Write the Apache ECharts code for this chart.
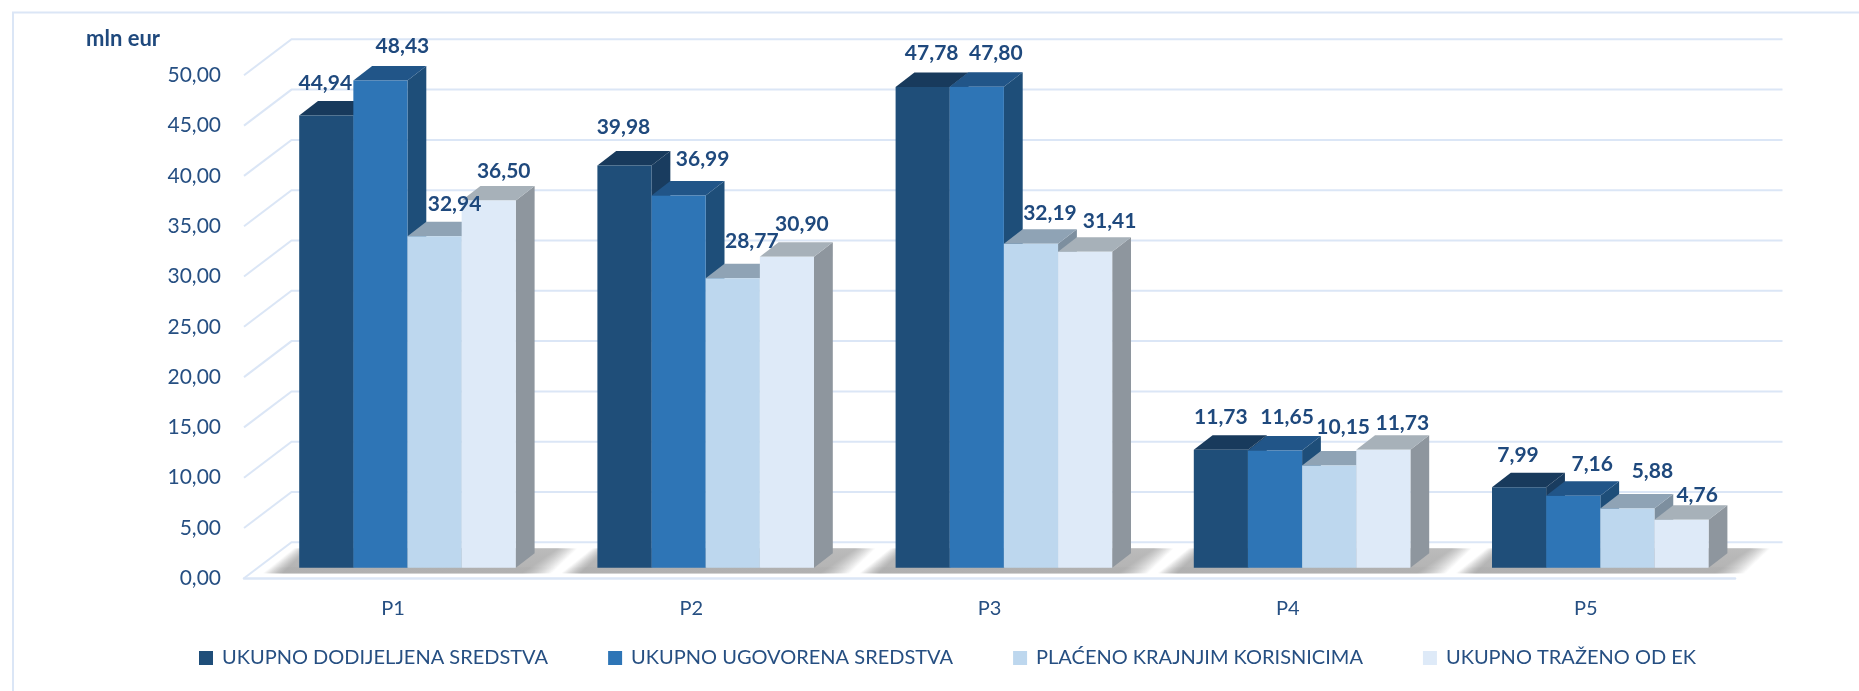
<!DOCTYPE html>
<html>
<head>
<meta charset="utf-8">
<script src="https://cdn.jsdelivr.net/npm/echarts@6/dist/echarts.min.js"></script>
<style>html,body{margin:0;padding:0;background:#fff}#c{width:1859px;height:691px}</style>
</head>
<body>
<div id="c"></div>
<script>
const categories = ['P1', 'P2', 'P3', 'P4', 'P5'];
const yTicks = [0, 5, 10, 15, 20, 25, 30, 35, 40, 45, 50];
const dodijeljena = [44.94, 39.98, 47.78, 11.73, 7.99];
const ugovorena = [48.43, 36.99, 47.80, 11.65, 7.16];
const placeno = [32.94, 28.77, 32.19, 10.15, 5.88];
const trazeno = [36.50, 30.90, 31.41, 11.73, 4.76];

const seriesNames = ['UKUPNO DODIJELJENA SREDSTVA', 'UKUPNO UGOVORENA SREDSTVA', 'PLAĆENO KRAJNJIM KORISNICIMA', 'UKUPNO TRAŽENO OD EK'];
const seriesValues = [dodijeljena, ugovorena, placeno, trazeno];
const frontColors = ['#1f4e79', '#2e75b6', '#bdd7ee', '#deeaf8'];
const topColors = ['#183a5c', '#215588', '#8fa3b5', '#a7b1b9'];
const sideColors = ['#193c5f', '#1e4e79', '#7d8f9f', '#8e969e'];

const textColor = '#264f82';
const labelColor = '#1f497d';
const lineColor = '#dbe6f6';
const fontFamily = 'Lato, "Open Sans", sans-serif';

// projection of the pseudo-3D scene (pixels)
const wallDx = 47.5, wallDy = 36;
const planeDx = 14.4, planeDy = 10.6;
const barDepthX = 18.8, barDepthY = 14.5;
const barWidth = 54.15;
// data-label placement relative to the top centre of each bar's front face
const labelDx = [[-1, -1, 9, 0, -1], [22, 24, 19, 12, 19], [20, 19, 19, 14, 25], [15, 15, 24.5, 19, 15.6]];
const labelDy = [[-32, -38, -34, -32, -32], [-34, -36, -34, -33, -31], [-32, -37, -31, -38, -37], [-29, -33, -30, -26, -25]];

function shadowItem(params, api) {
  const p = api.coord([api.value(0), 0]);
  const left = p[0] + planeDx - 2 * barWidth;
  const base = p[1] - planeDy;
  const children = [];
  const rows = 25;
  for (let r = 0; r < rows; r++) {
    const t = r / (rows - 1);
    const yy = base + 5.5 - r;
    const a = left - 36 + 30 * t, b = left - 16 + 25 * t;
    const c = left + 223 + 35 * t, d = left + 253 + 25 * t;
    const w = d - a;
    const gray = 'rgba(165,165,165,';
    const alpha = yy > base ? 1 : (0.95 - 0.15 * t);
    children.push({
      type: 'rect', silent: true,
      shape: {x: a, y: yy - 1, width: w, height: 1.2},
      style: {fill: new echarts.graphic.LinearGradient(0, 0, 1, 0, [
        {offset: 0, color: gray + '0)'},
        {offset: (b - a) / w, color: gray + alpha + ')'},
        {offset: (c - a) / w, color: gray + alpha + ')'},
        {offset: 1, color: gray + '0)'}
      ])}
    });
  }
  return {type: 'group', children};
}

function barItem(sIdx) {
  return function (params, api) {
    const cat = api.value(0);
    const top = api.coord([cat, api.value(1)]);
    const zero = api.coord([cat, 0]);
    const x = top[0] + planeDx - 2 * barWidth + sIdx * barWidth;
    const yT = top[1] - planeDy, yB = zero[1] - planeDy;
    const r = x + barWidth, dx = barDepthX, dy = barDepthY;
    const txt = api.value(1).toFixed(2).replace('.', ',');
    return {
      type: 'group',
      children: [
        {type: 'polygon', silent: true, shape: {points: [[r, yT], [r + dx, yT - dy], [r + dx, yB - dy], [r, yB]]}, style: {fill: sideColors[sIdx]}},
        {type: 'polygon', silent: true, shape: {points: [[x, yT], [x + dx, yT - dy], [r + dx, yT - dy], [r, yT]]}, style: {fill: topColors[sIdx]}},
        {type: 'rect', silent: true, shape: {x: x, y: yT, width: barWidth, height: yB - yT}, style: {fill: frontColors[sIdx]}},
        {type: 'text', silent: true, z2: 50, x: x + barWidth / 2 + labelDx[sIdx][cat], y: yT + labelDy[sIdx][cat],
          style: {text: txt, fill: labelColor, font: 'bold 21px ' + fontFamily, align: 'center', verticalAlign: 'middle'}}
      ]
    };
  };
}

const chart = echarts.init(document.getElementById('c'), null, {renderer: 'canvas'});
chart.setOption({
  animation: false,
  backgroundColor: '#ffffff',
  grid: {left: 244, top: 75.3, width: 1491, height: 503, containLabel: false},
  graphic: [{
    type: 'polyline', silent: true, z: 0,
    shape: {points: [[13, 691], [13, 12.5], [1859, 12.5]]},
    style: {stroke: lineColor, lineWidth: 2, fill: null}
  }],
  legend: {
    left: 194, top: 643, itemWidth: 14, itemHeight: 14, itemGap: 60, icon: 'rect',
    data: seriesNames,
    selectedMode: false,
    textStyle: {color: textColor, fontSize: 20, fontFamily: fontFamily, padding: [0, 0, 0, 4]}
  },
  tooltip: {show: false},
  xAxis: {
    type: 'category',
    data: categories,
    axisTick: {show: false},
    axisLine: {lineStyle: {color: lineColor, width: 2.5}},
    axisLabel: {color: textColor, fontSize: 20, fontFamily: fontFamily, margin: 20},
    splitLine: {show: false}
  },
  yAxis: {
    type: 'value',
    min: 0, max: 50, interval: 5,
    name: 'mln eur',
    nameLocation: 'end',
    nameGap: 25,
    nameTextStyle: {color: labelColor, fontWeight: 'bold', fontSize: 22, fontFamily: fontFamily, align: 'right', padding: [0, 84, 0, 0]},
    axisLine: {show: false},
    axisTick: {show: false},
    splitLine: {show: false},
    axisLabel: {color: textColor, fontSize: 21, fontFamily: fontFamily, margin: 23, formatter: v => v.toFixed(2).replace('.', ',')}
  },
  series: [
    {type: 'custom', name: 'grid', silent: true, z: 1, clip: false, coordinateSystem: 'cartesian2d',
      data: yTicks.map(v => [v]), encode: {y: 0}, renderItem: function (params, api) {
        const p = api.coord([0, api.value(0)]);
        const band = api.size([1, 0])[0];
        const x0 = p[0] - band / 2, y = p[1];
        const xEnd = x0 + band * categories.length + wallDx;
        return {type: 'polyline', silent: true,
          shape: {points: [[x0, y], [x0 + wallDx, y - wallDy], [xEnd, y - wallDy]]},
          style: {stroke: lineColor, lineWidth: 2, fill: null}};
      }},
    {type: 'custom', name: 'floor', silent: true, z: 2, clip: false, coordinateSystem: 'cartesian2d',
      data: categories.map((c, i) => [i, 0]), encode: {x: 0, y: 1}, renderItem: shadowItem}
  ].concat(seriesNames.map((name, s) => ({
    type: 'custom', name: name, silent: true, z: 3, clip: false, coordinateSystem: 'cartesian2d',
    itemStyle: {color: frontColors[s]},
    data: seriesValues[s].map((v, i) => [i, v]), encode: {x: 0, y: 1},
    renderItem: barItem(s)
  })))
});
</script>
</body>
</html>
